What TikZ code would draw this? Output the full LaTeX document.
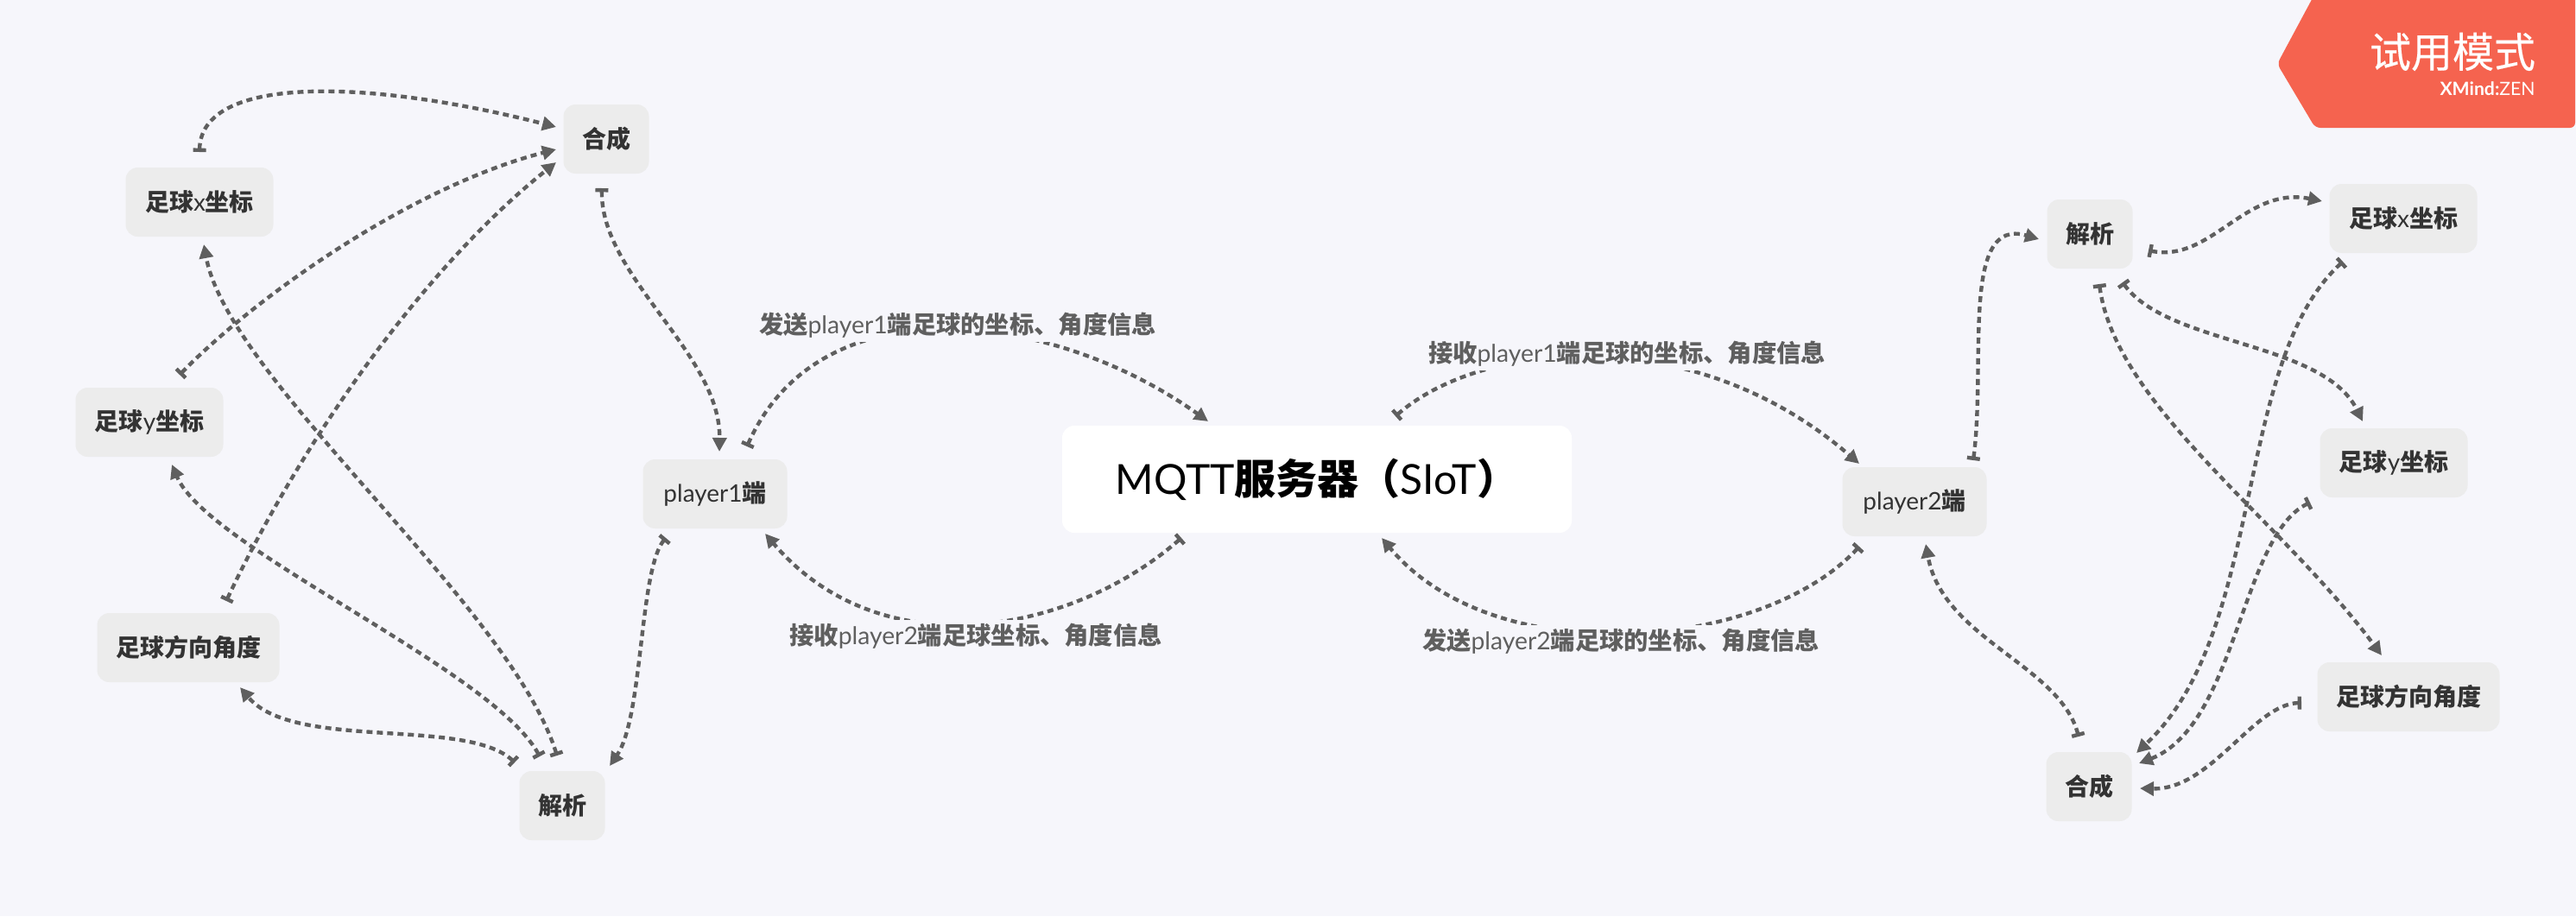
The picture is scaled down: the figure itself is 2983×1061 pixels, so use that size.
\documentclass[tikz,border=0pt]{standalone}
\usepackage{fontspec}
\setmainfont{Lato}
\newfontfamily\cjk{Noto Sans CJK SC}
\newfontfamily\cjkmid[FakeBold=0.3]{Noto Sans CJK SC}
\usepackage{tikz}
\usetikzlibrary{calc}
\usetikzlibrary{arrows.meta}
\definecolor{pagebg}{HTML}{F6F6FB}
\definecolor{topicgray}{HTML}{ECECEC}
\definecolor{linegray}{HTML}{5F5F5F}
\definecolor{badgered}{HTML}{F5634F}
\newcommand{\zh}[1]{{\cjk\bfseries #1}}
\tikzset{topicbox/.style={fill=topicgray, rounded corners=7pt, inner sep=0pt, minimum height=40pt, text=black!80, font=\fontsize{14}{16}\selectfont}}
\tikzset{tagtext/.style={fill=pagebg, inner sep=2pt, text=linegray, font=\fontsize{14.15}{16}\selectfont}}

\begin{document}
\begin{tikzpicture}[x=0.5pt, y=-0.5pt]
\tikzstyle{myedgestyle} = [{Bar[width=7.5pt,length=2pt]}-{Triangle[width=8pt,length=8pt]}, linegray, line width=2.2pt, dash pattern=on 3.5pt off 2.5pt]
\useasboundingbox (0,0) rectangle (2983,1061);
\fill[pagebg] (0,0) rectangle (2983,1061);

\node[topicbox, minimum width=49.5pt](synL) at (702,161){\zh{合成}};
\node[topicbox, minimum width=85.5pt](xL) at (231,234){\zh{足球}x\zh{坐标}};
\node[topicbox, minimum width=85.5pt](yL) at (173,489){\zh{足球}y\zh{坐标}};
\node[topicbox, minimum width=105.5pt](angL) at (218,750){\zh{足球方向角度}};
\node[topicbox, minimum width=49.5pt](parL) at (651,933){\zh{解析}};
\node[topicbox, minimum width=83.5pt](playerA) at (828,572){player1\zh{端}};
\node[fill=white, rounded corners=7pt, inner sep=0pt, minimum width=295pt, minimum height=62pt, font=\fontsize{24}{26}\selectfont](mqtt) at (1525,555){MQTT\zh{服务器（}SIoT\zh{）}\hspace{8pt}};
\node[topicbox, minimum width=83.5pt](playerB) at (2217,581){player2\zh{端}};
\node[topicbox, minimum width=49.5pt](parR) at (2420,271){\zh{解析}};
\node[topicbox, minimum width=85.5pt](xR) at (2783,253){\zh{足球}x\zh{坐标}};
\node[topicbox, minimum width=85.5pt](yR) at (2772,536){\zh{足球}y\zh{坐标}};
\node[topicbox, minimum width=105.5pt](angR) at (2789,807){\zh{足球方向角度}};
\node[topicbox, minimum width=49.5pt](synR) at (2419,911){\zh{合成}};

\draw[myedgestyle] ($(xL.center)+(0,-58)$) .. controls (233,88) and (420,90) .. ($(synL.center)+(-58,-14)$);
\draw[myedgestyle] ($(yL.center)+(35,-55)$) .. controls (300,340) and (480,215) .. ($(synL.center)+(-58,12)$);
\draw[myedgestyle] ($(angL.center)+(44,-54)$) .. controls (345,520) and (485,315) .. ($(synL.center)+(-58,27)$);
\draw[myedgestyle] ($(parL.center)+(-6,-58)$) .. controls (590,700) and (265,440) .. ($(xL.center)+(5,49)$);
\draw[myedgestyle] ($(parL.center)+(-26,-57)$) .. controls (570,775) and (240,635) .. ($(yL.center)+(26,49)$);
\draw[myedgestyle] ($(parL.center)+(-55,-50)$) .. controls (540,830) and (340,870) .. ($(angL.center)+(60,46)$);
\draw[myedgestyle] ($(synL.center)+(-5,57)$) .. controls (695,320) and (835,410) .. ($(playerA.center)+(5,-49)$);
\draw[myedgestyle] ($(playerA.center)+(-57,51)$) .. controls (740,660) and (745,830) .. ($(parL.center)+(55,-46)$);
\draw[myedgestyle] ($(playerA.center)+(37,-55)$) .. controls (950,325) and (1220,360) .. ($(mqtt.center)+(-126,-67)$);
\draw[myedgestyle] ($(mqtt.center)+(-157,68)$) .. controls (1240,735) and (1020,775) .. ($(playerA.center)+(58,46)$);
\draw[myedgestyle] ($(mqtt.center)+(91,-73)$) .. controls (1715,395) and (1960,370) .. ($(playerB.center)+(-64,-44)$);
\draw[myedgestyle] ($(playerB.center)+(-64,52)$) .. controls (2040,755) and (1730,779) .. ($(mqtt.center)+(75,68)$);
\draw[myedgestyle] ($(playerB.center)+(68,-48)$) .. controls (2300,420) and (2270,250) .. ($(parR.center)+(-59,6)$);
\draw[myedgestyle] ($(parR.center)+(68,19)$) .. controls (2560,305) and (2600,215) .. ($(xR.center)+(-94,-20)$);
\draw[myedgestyle] ($(parR.center)+(38,56)$) .. controls (2510,400) and (2690,395) .. ($(yR.center)+(-36,-48)$);
\draw[myedgestyle] ($(parR.center)+(11,58)$) .. controls (2450,470) and (2640,600) .. ($(angR.center)+(-31,-48)$);
\draw[myedgestyle] ($(xR.center)+(-70,50)$) .. controls (2585,420) and (2625,730) .. ($(synR.center)+(55,-39)$);
\draw[myedgestyle] ($(yR.center)+(-97,46)$) .. controls (2595,620) and (2590,840) .. ($(synR.center)+(58,-27)$);
\draw[myedgestyle] ($(angR.center)+(-124,7)$) .. controls (2610,815) and (2560,915) .. ($(synR.center)+(59,2)$);
\draw[myedgestyle] ($(synR.center)+(-12,-58)$) .. controls (2385,770) and (2250,740) .. ($(playerB.center)+(13,49)$);

\node[tagtext](sendA) at (1109,377){\zh{发送}player1\zh{端足球的坐标、角度信息}};
\node[tagtext](recvB) at (1130,737){\zh{接收}player2\zh{端足球坐标、角度信息}};
\node[tagtext](recvA) at (1884,410){\zh{接收}player1\zh{端足球的坐标、角度信息}};
\node[tagtext](sendB) at (1877,743){\zh{发送}player2\zh{端足球的坐标、角度信息}};

\fill[badgered, rounded corners=3pt] (2681,-8) -- (2637,74) -- (2681,148) -- (2982,148) -- (2982,-8) -- cycle;
\node[text=white, font=\fontsize{24}{26}\selectfont\cjkmid](trial) at (2840,60){试用模式};
\node[text=white, anchor=east, inner sep=0pt, font=\fontsize{10.6}{13}\selectfont](brand) at (2936,103){\textbf{XMind:}ZEN};
\end{tikzpicture}
\end{document}
